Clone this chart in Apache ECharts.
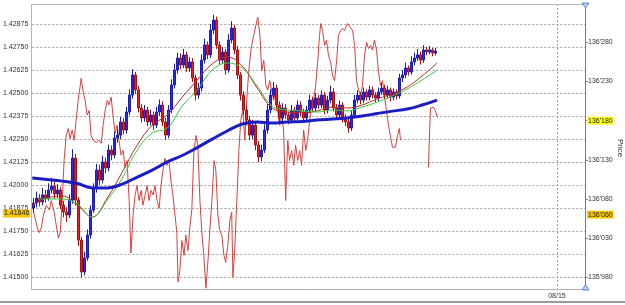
<!DOCTYPE html>
<html><head><meta charset="utf-8">
<script src="https://cdn.jsdelivr.net/npm/echarts@6/dist/echarts.min.js"></script>
<style>html,body{margin:0;padding:0;background:#fff}#c{width:625px;height:305px}</style>
</head><body><div id="c"></div>
<script>
// ---- data ----
const firstOpen = 1.41876;
const closes = [
1.41903,1.41930,1.41909,1.41947,1.41930,1.41974,1.41995,1.41952,1.41974,1.41892,
1.41854,1.41838,1.41919,1.42147,1.41919,1.41702,1.41529,1.41605,1.41729,1.41865,
1.41985,1.42082,1.42028,1.42126,1.42093,1.42191,1.42164,1.42256,1.42272,1.42343,
1.42299,1.42397,1.42489,1.42598,1.42517,1.42419,1.42365,1.42408,1.42343,1.42381,
1.42326,1.42397,1.42435,1.42343,1.42272,1.42408,1.42544,1.42625,1.42690,1.42652,
1.42707,1.42636,1.42669,1.42582,1.42489,1.42527,1.42679,1.42761,1.42707,1.42842,
1.42896,1.42761,1.42679,1.42723,1.42625,1.42788,1.42853,1.42734,1.42598,1.42489,
1.42408,1.42354,1.42272,1.42326,1.42218,1.42153,1.42191,1.42299,1.42408,1.42489,
1.42527,1.42435,1.42365,1.42419,1.42381,1.42354,1.42408,1.42365,1.42435,1.42397,
1.42365,1.42408,1.42462,1.42419,1.42473,1.42435,1.42489,1.42408,1.42462,1.42506,
1.42419,1.42381,1.42435,1.42365,1.42343,1.42310,1.42381,1.42462,1.42489,1.42462,
1.42506,1.42478,1.42517,1.42489,1.42473,1.42506,1.42527,1.42489,1.42517,1.42478,
1.42506,1.42484,1.42582,1.42598,1.42636,1.42614,1.42669,1.42690,1.42707,1.42679,
1.42734,1.42723,1.42734,1.42717,1.42728];
const highs = [
1.41930,1.41965,1.41952,1.41985,1.41975,1.42010,1.42040,1.42020,1.42005,1.41990,
1.41915,1.41880,1.41950,1.42195,1.42170,1.41935,1.41720,1.41640,1.41760,1.41890,
1.42010,1.42115,1.42110,1.42160,1.42150,1.42220,1.42215,1.42290,1.42305,1.42370,
1.42365,1.42425,1.42520,1.42630,1.42615,1.42540,1.42440,1.42435,1.42425,1.42410,
1.42400,1.42425,1.42465,1.42455,1.42365,1.42435,1.42575,1.42660,1.42720,1.42715,
1.42740,1.42725,1.42695,1.42690,1.42600,1.42555,1.42710,1.42795,1.42780,1.42875,
1.42925,1.42915,1.42780,1.42750,1.42740,1.42820,1.42890,1.42870,1.42755,1.42615,
1.42510,1.42430,1.42375,1.42355,1.42345,1.42240,1.42220,1.42330,1.42440,1.42520,
1.42560,1.42545,1.42455,1.42445,1.42440,1.42400,1.42435,1.42425,1.42460,1.42455,
1.42415,1.42430,1.42490,1.42480,1.42500,1.42490,1.42515,1.42505,1.42485,1.42540,
1.42525,1.42440,1.42460,1.42450,1.42385,1.42360,1.42405,1.42490,1.42515,1.42505,
1.42530,1.42520,1.42540,1.42535,1.42505,1.42530,1.42555,1.42545,1.42540,1.42530,
1.42525,1.42520,1.42605,1.42625,1.42665,1.42650,1.42700,1.42720,1.42740,1.42725,
1.42760,1.42750,1.42755,1.42745,1.42745];
const lows = [
1.41850,1.41880,1.41885,1.41890,1.41905,1.41915,1.41955,1.41925,1.41930,1.41870,
1.41825,1.41800,1.41820,1.41900,1.41890,1.41670,1.41500,1.41510,1.41590,1.41710,
1.41850,1.41960,1.42000,1.42010,1.42065,1.42075,1.42135,1.42145,1.42230,1.42250,
1.42275,1.42280,1.42380,1.42470,1.42495,1.42395,1.42340,1.42345,1.42320,1.42325,
1.42300,1.42310,1.42375,1.42320,1.42245,1.42255,1.42390,1.42525,1.42605,1.42630,
1.42635,1.42615,1.42615,1.42560,1.42460,1.42470,1.42510,1.42660,1.42685,1.42690,
1.42820,1.42740,1.42655,1.42660,1.42600,1.42610,1.42770,1.42710,1.42575,1.42460,
1.42380,1.42325,1.42245,1.42250,1.42190,1.42125,1.42130,1.42175,1.42280,1.42390,
1.42470,1.42410,1.42340,1.42345,1.42360,1.42330,1.42335,1.42345,1.42350,1.42375,
1.42340,1.42350,1.42390,1.42400,1.42400,1.42415,1.42420,1.42385,1.42390,1.42445,
1.42400,1.42360,1.42365,1.42340,1.42320,1.42285,1.42295,1.42365,1.42445,1.42440,
1.42445,1.42460,1.42460,1.42470,1.42450,1.42455,1.42490,1.42470,1.42470,1.42455,
1.42460,1.42465,1.42470,1.42560,1.42580,1.42595,1.42600,1.42650,1.42675,1.42655,
1.42665,1.42705,1.42710,1.42700,1.42705];
const maFast = [[0,1.41892],[5,1.41930],[10,1.41941],[15,1.41892],[20,1.41827],[25,1.41930],[30,1.42071],[35,1.42218],[40,1.42326],[45,1.42381],[50,1.42478],[55,1.42571],[60,1.42658],[65,1.42696],[70,1.42647],[75,1.42527],[80,1.42419],[85,1.42397],[90,1.42392],[95,1.42403],[100,1.42424],[105,1.42419],[110,1.42435],[115,1.42468],[120,1.42495],[125,1.42533],[130,1.42593],[135,1.42663]];
const maSlow = [[2,1.41925],[5,1.41925],[10,1.41925],[15,1.41898],[20,1.41827],[25,1.41919],[30,1.42039],[35,1.42191],[40,1.42283],[45,1.42310],[50,1.42430],[55,1.42517],[60,1.42625],[65,1.42663],[70,1.42636],[75,1.42538],[80,1.42430],[85,1.42408],[90,1.42403],[95,1.42397],[100,1.42408],[105,1.42403],[110,1.42424],[115,1.42451],[120,1.42484],[125,1.42522],[130,1.42571],[135,1.42625]];
const maLong = [[0,1.42039],[5,1.42031],[10,1.42022],[15,1.42009],[20,1.41985],[25,1.41985],[30,1.42006],[35,1.42044],[40,1.42082],[45,1.42126],[50,1.42161],[55,1.42204],[60,1.42250],[65,1.42294],[70,1.42332],[75,1.42343],[80,1.42337],[85,1.42343],[90,1.42345],[95,1.42354],[100,1.42359],[105,1.42365],[110,1.42375],[115,1.42389],[120,1.42402],[125,1.42413],[130,1.42435],[135,1.42462]];
const tickLine = [[0.0,136072],[0.7,136059],[1.7,136043],[2.3,136037],[3.0,136043],[3.7,136059],[4.7,136072],[5.7,136066],[6.3,136078],[7.3,136063],[8.0,136046],[8.7,136030],[9.3,136037],[10.0,136078],[10.6,136129],[11.3,136161],[12.0,136170],[12.6,136157],[13.3,136168],[14.0,136155],[14.6,136180],[15.3,136206],[16.0,136225],[16.3,136234],[17.0,136216],[17.6,136206],[18.3,136187],[19.0,136193],[19.6,136161],[20.3,136155],[21.3,136152],[22.3,136155],[23.0,136151],[23.6,136174],[24.3,136193],[25.0,136206],[25.6,136200],[26.3,136210],[26.9,136187],[27.6,136164],[28.3,136174],[28.9,136155],[29.6,136136],[30.3,136142],[30.9,136120],[31.6,136129],[32.3,136078],[32.9,136011],[33.6,136059],[34.3,136085],[34.9,136097],[35.6,136078],[36.3,136091],[36.9,136072],[37.6,136085],[38.3,136097],[38.9,136078],[39.6,136091],[40.3,136085],[40.9,136097],[41.6,136078],[42.3,136068],[42.9,136097],[43.6,136117],[44.2,136132],[44.9,136123],[45.6,136129],[46.2,136104],[46.9,136085],[47.6,136059],[48.2,136037],[48.6,135974],[49.2,135989],[49.9,136027],[50.6,136008],[51.2,136034],[51.9,136014],[52.6,136046],[53.2,136066],[53.9,136142],[54.6,136161],[55.2,136149],[55.9,136078],[56.6,136034],[57.2,136008],[57.9,135966],[58.6,136002],[59.2,136040],[59.9,136078],[60.6,136129],[61.2,136117],[61.9,136059],[62.5,136040],[63.2,136034],[63.9,136008],[64.5,135999],[65.2,136021],[65.9,136053],[66.5,136063],[66.9,135980],[67.5,136014],[68.2,136078],[68.9,136142],[69.5,136180],[70.2,136193],[70.9,136155],[71.5,136206],[72.2,136244],[72.9,136270],[73.5,136283],[74.2,136295],[74.9,136308],[75.2,136312],[75.9,136289],[76.5,136244],[77.2,136257],[77.9,136225],[78.5,136219],[79.2,136231],[79.8,136229],[80.5,136206],[81.2,136219],[81.8,136193],[82.5,136174],[83.2,136187],[83.8,136168],[84.5,136078],[85.2,136155],[85.8,136129],[86.5,136142],[87.2,136123],[87.8,136149],[88.5,136129],[89.2,136142],[89.8,136123],[90.5,136168],[91.2,136142],[91.8,136155],[92.5,136180],[93.2,136200],[93.8,136206],[94.5,136225],[95.2,136257],[95.8,136289],[96.2,136304],[96.8,136295],[97.5,136276],[98.1,136283],[98.8,136263],[99.5,136254],[100.1,136238],[100.8,136231],[101.5,136257],[102.1,136289],[102.8,136295],[103.5,136298],[104.1,136295],[105.1,136304],[106.1,136299],[106.8,136295],[107.5,136276],[108.1,136231],[108.8,136219],[109.5,136212],[110.1,136225],[110.8,136263],[111.5,136280],[112.1,136272],[112.8,136276],[113.4,136270],[114.1,136283],[114.8,136270],[115.4,136244],[116.1,136225],[116.8,136231],[117.4,136212],[118.1,136193],[118.8,136174],[119.4,136161],[120.1,136146],[121.1,136146],[121.8,136161],[122.4,136170],[122.8,136155],[127.5,null],[132.1,136120],[132.4,136155],[132.8,136196],[133.7,136197],[134.4,136193],[135.1,136184]];
const leftMin = 1.415, leftMax = 1.429834, leftStep = 0.00125;
const rightMin = 135980, rightMax = 136328.9, rightStep = 50;
const xMin = 0, xMax = 184.32, dateTick = 175, dateLabel = '08/15';
const priceMarker = 1.41846;
const rightMarkers = [136180, 136060];

// ---- chart ----
const FONT = 'Liberation Sans, Arial, sans-serif';
const candles = closes.map((c, i) => [i + 0.5, i === 0 ? firstOpen : closes[i - 1], c, lows[i], highs[i]]);
const fmtRight = v => { const s = String(Math.round(v)); return s.slice(0, s.length - 3) + "'" + s.slice(-3); };
const dash = { type: [2, 2], color: '#a0a0a0', width: 1 };
const chart = echarts.init(document.getElementById('c'), null, { renderer: 'canvas' });
chart.setOption({
  animation: false,
  backgroundColor: '#fff',
  grid: [
    { left: 31, right: 40, top: 4, bottom: 27.7 },
    { left: 31, right: 40, top: 4, bottom: 15 }
  ],
  xAxis: [
    { gridIndex: 0, type: 'value', min: xMin, max: xMax, show: false },
    { gridIndex: 1, type: 'value', min: xMin, max: xMax, interval: dateTick,
      axisLine: { show: false }, axisTick: { show: false },
      splitLine: { show: true, lineStyle: dash },
      axisLabel: { formatter: v => Math.abs(v - dateTick) < 0.01 ? dateLabel : '', fontSize: 7, color: '#333', margin: 3, fontFamily: FONT } }
  ],
  yAxis: [
    { gridIndex: 0, type: 'value', position: 'left', min: leftMin, max: leftMax, interval: leftStep,
      axisLine: { show: false }, axisTick: { show: false },
      splitLine: { show: true, lineStyle: dash },
      axisLabel: { formatter: v => v.toFixed(5), showMaxLabel: false, fontSize: 7, color: '#333', margin: 4, fontFamily: FONT } },
    { gridIndex: 0, type: 'value', position: 'right', min: rightMin, max: rightMax, interval: rightStep,
      axisLine: { show: false }, axisTick: { show: true, length: 3, lineStyle: { color: '#888' } },
      splitLine: { show: false },
      axisLabel: { formatter: fmtRight, showMaxLabel: false, fontSize: 7, color: '#333', margin: 3, fontFamily: FONT } },
    { gridIndex: 1, type: 'value', show: false }
  ],
  series: [
    { type: 'line', name: 'ticks', xAxisIndex: 0, yAxisIndex: 1, data: tickLine, showSymbol: false, clip: false, z: 1,
      lineStyle: { color: '#d94040', width: 1 }, connectNulls: false,
      markLine: { silent: true, symbol: 'none', precision: 0, lineStyle: { color: 'rgba(0,0,0,0)' },
        label: { position: 'end', distance: 2, formatter: p => fmtRight(p.value), fontSize: 7, color: '#222', fontFamily: FONT, padding: [1, 1, 0, 1] },
        data: [ { yAxis: rightMarkers[0], label: { backgroundColor: '#ffff20' } }, { yAxis: rightMarkers[1], label: { backgroundColor: '#f8c800' } } ] } },
    { type: 'candlestick', name: 'price', xAxisIndex: 0, yAxisIndex: 0, data: candles, encode: { x: 0, y: [1, 2, 3, 4] },
      barWidth: 2.6, clip: false, z: 2,
      itemStyle: { color: '#2a2af2', color0: '#e82020', borderColor: '#1c1cb0', borderColor0: '#a81010', borderWidth: 1 } },
    { type: 'line', name: 'fast', xAxisIndex: 0, yAxisIndex: 0, data: maFast, showSymbol: false, smooth: 0.4, z: 3,
      lineStyle: { color: '#b82a2a', width: 1 } },
    { type: 'line', name: 'slow', xAxisIndex: 0, yAxisIndex: 0, data: maSlow, showSymbol: false, smooth: 0.4, z: 3,
      lineStyle: { color: '#3cc83c', width: 1 } },
    { type: 'line', name: 'long', xAxisIndex: 0, yAxisIndex: 0, data: maLong, showSymbol: false, smooth: 0.4, z: 4,
      lineStyle: { color: '#1c1cc4', width: 3 },
      markLine: { silent: true, symbol: 'none', precision: 5, lineStyle: { color: 'rgba(0,0,0,0)' },
        label: { position: 'start', distance: 2, formatter: p => Number(p.value).toFixed(5), fontSize: 7, color: '#222', fontFamily: FONT, backgroundColor: '#f8c800', padding: [1, 1, 0, 1] },
        data: [ { yAxis: priceMarker } ] } }
  ],
  graphic: [
    { type: 'rect', shape: { x: 31.5, y: 4.5, width: 554, height: 285 }, style: { fill: 'none', stroke: '#b4b4b4', lineWidth: 1 }, z: 50 },
    { type: 'line', shape: { x1: 585.5, y1: 4, x2: 585.5, y2: 290 }, style: { stroke: '#7c7c7c', lineWidth: 1 }, z: 51 },
    { type: 'polygon', shape: { points: [[582, 3], [589, 3], [585.5, 8]] }, style: { fill: '#b8d4ee', stroke: '#5a88c4', lineWidth: 1 }, z: 52 },
    { type: 'polygon', shape: { points: [[582, 290], [589, 290], [585.5, 285]] }, style: { fill: '#b8d4ee', stroke: '#5a88c4', lineWidth: 1 }, z: 52 },
    { type: 'line', shape: { x1: 0, y1: 302, x2: 625, y2: 302 }, style: { stroke: '#9a9a9a', lineWidth: 2 }, z: 50 },
    { type: 'text', x: 620, y: 148, rotation: -Math.PI / 2, style: { text: 'Price', fontSize: 8, fill: '#333', fontFamily: FONT, align: 'center', verticalAlign: 'middle' }, z: 50 }
  ]
});
</script></body></html>
